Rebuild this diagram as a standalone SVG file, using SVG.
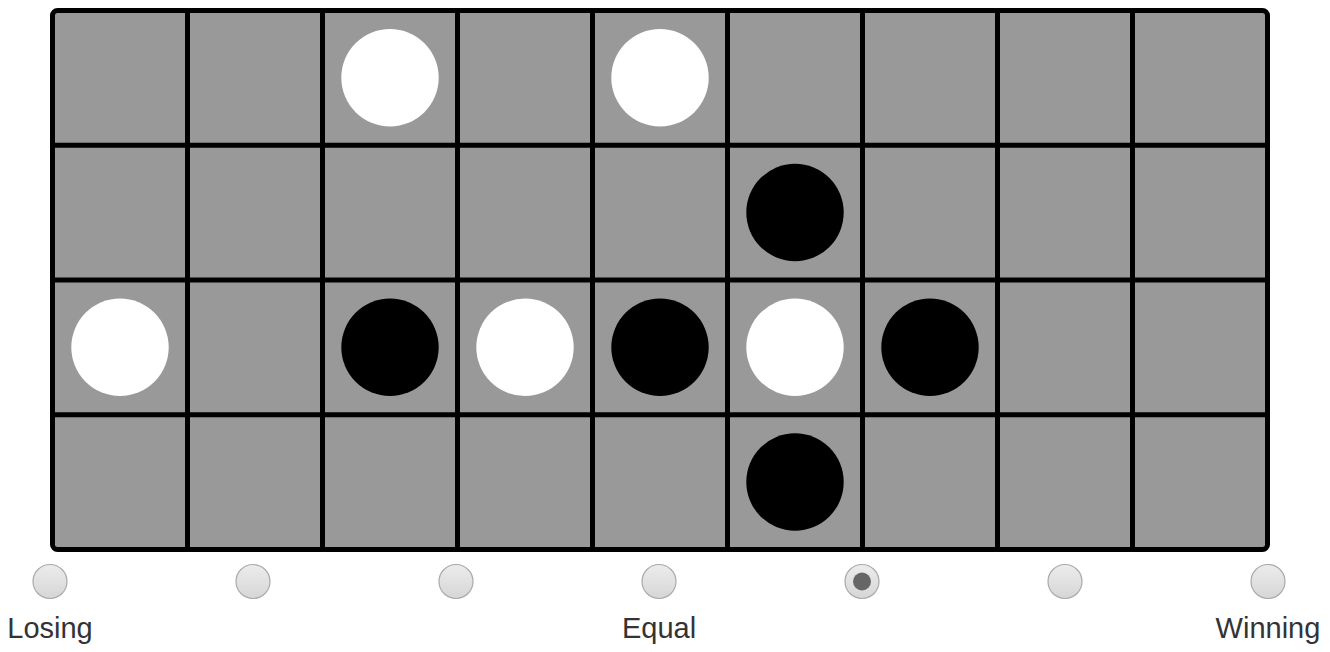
<svg xmlns="http://www.w3.org/2000/svg" width="1330" height="652" viewBox="0 0 1330 652">
<style>
.grid{stroke:#000;stroke-width:5;fill:none}
.w{fill:#fff}
.b{fill:#000}
.radio{fill:url(#rg);stroke:#aaa;stroke-width:1.2}
.lbl{font-family:"Liberation Sans",Arial,sans-serif;font-size:29px;fill:#333;text-anchor:middle}
</style>
<defs>
<linearGradient id="rg" x1="0" y1="0" x2="0" y2="1">
<stop offset="0" stop-color="#ececec"/>
<stop offset="1" stop-color="#d6d6d6"/>
</linearGradient>
</defs>
<rect width="1330" height="652" fill="#fff"/>
<g id="board">
<rect x="52.5" y="10.5" width="1215" height="539" rx="5" fill="#999"/>
<g class="grid">
<path d="M187.5 10.5V549.5M322.5 10.5V549.5M457.5 10.5V549.5M592.5 10.5V549.5M727.5 10.5V549.5M862.5 10.5V549.5M997.5 10.5V549.5M1132.5 10.5V549.5"/>
<path d="M52.5 145.25H1267.5M52.5 280H1267.5M52.5 414.75H1267.5"/>
</g>
<rect class="grid" x="52.5" y="10.5" width="1215" height="539" rx="5"/>
</g>
<g id="stones">
<circle class="w" cx="390" cy="77.7" r="48.7"/>
<circle class="w" cx="660" cy="77.7" r="48.7"/>
<circle class="b" cx="795" cy="212.5" r="48.7"/>
<circle class="w" cx="120" cy="347.3" r="48.7"/>
<circle class="b" cx="390" cy="347.3" r="48.7"/>
<circle class="w" cx="525" cy="347.3" r="48.7"/>
<circle class="b" cx="660" cy="347.3" r="48.7"/>
<circle class="w" cx="795" cy="347.3" r="48.7"/>
<circle class="b" cx="930" cy="347.3" r="48.7"/>
<circle class="b" cx="795" cy="482" r="48.7"/>
</g>
<g id="scale">
<circle class="radio" cx="50" cy="581.5" r="17"/>
<circle class="radio" cx="253" cy="581.5" r="17"/>
<circle class="radio" cx="456" cy="581.5" r="17"/>
<circle class="radio" cx="659" cy="581.5" r="17"/>
<circle class="radio" cx="862" cy="581.5" r="17"/>
<circle cx="862" cy="581.5" r="9" fill="#666"/>
<circle class="radio" cx="1065" cy="581.5" r="17"/>
<circle class="radio" cx="1268" cy="581.5" r="17"/>
<text class="lbl" x="50" y="638">Losing</text>
<text class="lbl" x="659" y="638">Equal</text>
<text class="lbl" x="1268" y="638">Winning</text>
</g>
</svg>
